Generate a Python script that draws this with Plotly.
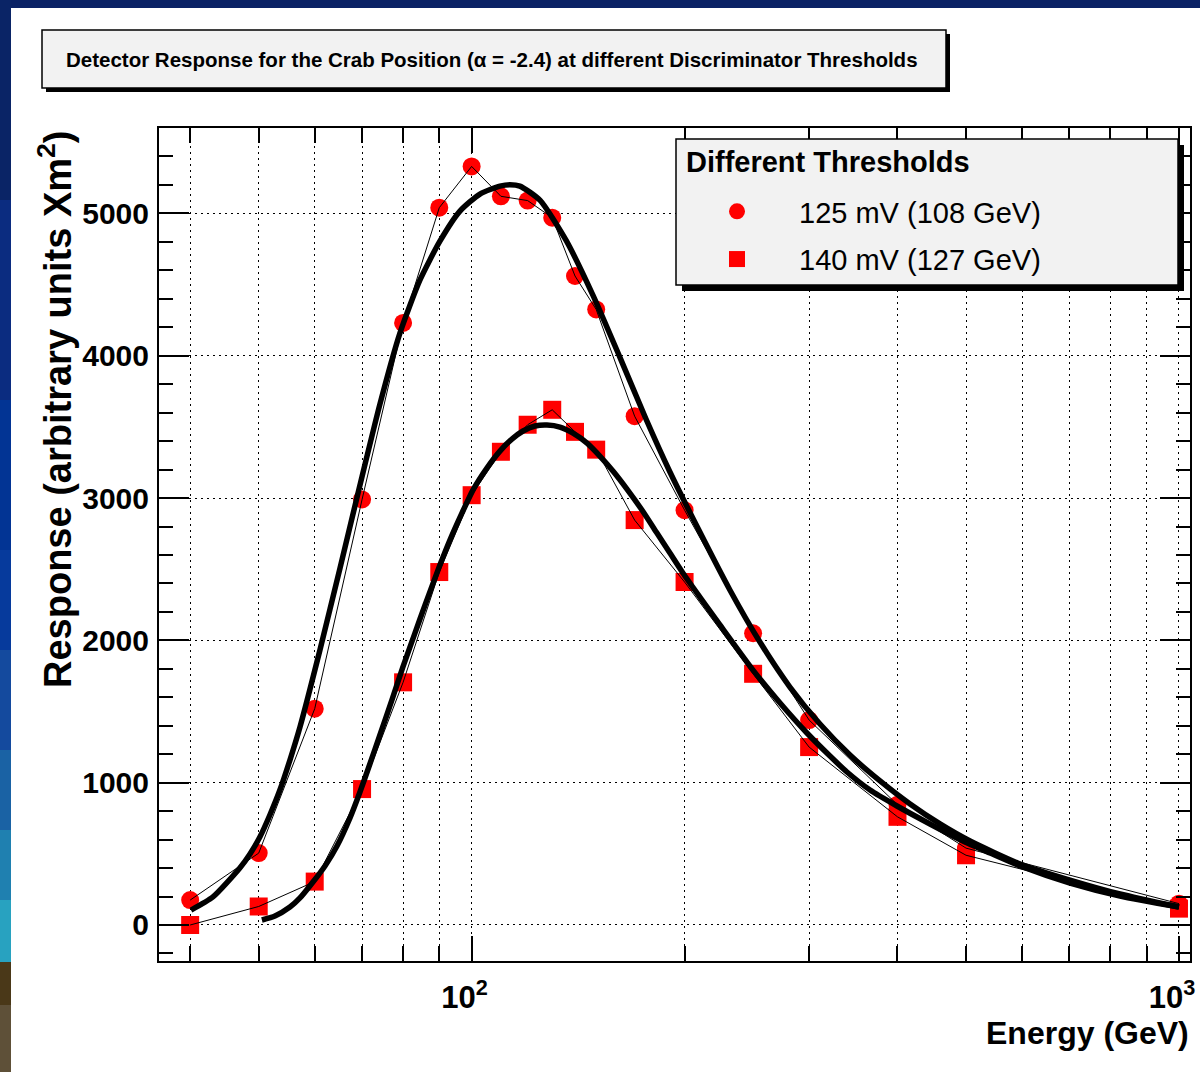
import plotly.graph_objects as go

# ---------------- data ----------------
energy = [40, 50, 60, 70, 80, 90, 100, 110, 120, 130, 140, 150, 170, 200, 250, 300, 400, 500, 1000]
resp_125 = [175, 505, 1520, 2990, 4230, 5040, 5330, 5120, 5090, 4970, 4560, 4325, 3575, 2915, 2050, 1440, 845, 540, 150]
resp_140 = [0, 130, 305, 955, 1705, 2480, 3020, 3325, 3515, 3620, 3465, 3340, 2845, 2410, 1765, 1250, 760, 490, 115]

# fitted curves
fit_e_125 = [40.11, 43.08, 47.02, 48.60, 50.19, 51.85, 53.57, 55.35, 57.19, 61.03, 65.15, 69.52, 74.19,
             79.18, 84.49, 90.19, 96.26, 102.74, 109.65, 113.28, 117.01, 124.9, 135.95, 148.4, 162.0,
             176.4, 190.7, 210.2, 231.8, 255.6, 281.8, 310.8, 342.7, 377.9, 416.7, 459.4, 506.6,
             596.2, 701.4, 825.4, 1000]
fit_125 = [105, 197, 400, 499, 618, 773, 948, 1159, 1391, 1932, 2508, 3091, 3660,
           4159, 4531, 4805, 5016, 5136, 5192, 5202, 5192, 5093, 4812, 4426, 3990,
           3555, 3183, 2761, 2354, 1988, 1672, 1412, 1194, 1012, 850, 710, 590,
           429, 316, 218, 126]

fit_e_140 = [50.52, 52.71, 55.35, 57.19, 59.66, 62.04, 64.51, 67.30, 69.52, 71.80, 74.19, 77.15, 79.96,
             83.15, 85.91, 90.19, 93.18, 96.89, 100.42, 105.1, 109.65, 114.0, 118.2, 122.9, 127.8,
             133.3, 139.1, 145.6, 151.8, 158.4, 165.8, 174.1, 182.8, 190.7, 198.9, 210.2, 224.4,
             249.9, 272.9, 297.9, 321.1, 339.3, 365.8, 399.3, 444.6, 495.1, 540.6, 596.2, 701.4,
             825.4, 1000]
fit_140 = [35, 63, 126, 190, 302, 415, 555, 752, 934, 1131, 1335, 1581, 1813,
           2051, 2248, 2529, 2705, 2894, 3056, 3211, 3330, 3414, 3471, 3506, 3513,
           3499, 3456, 3386, 3295, 3190, 3063, 2916, 2754, 2613, 2473, 2304, 2108,
           1791, 1560, 1349, 1187, 1075, 948, 836, 710, 590, 506, 415, 295,
           204, 126]

labels = ["125 mV (108 GeV)", "140 mV (127 GeV)"]
x_tickvals = [100, 1000]
x_ticktext = ["10<sup>2</sup>", "10<sup>3</sup>"]
x_minor = [40, 50, 60, 70, 80, 90, 200, 300, 400, 500, 600, 700, 800, 900]

# ---------------- layout geometry ----------------
W, H = 1200, 1072
L, R, T, B = 159, 10, 128, 111
PW, PH = W - L - R, H - T - B

def px(x):
    return (x - L) / PW

def py(y):
    return (H - B - y) / PH

FONT = "Liberation Sans, Arial, Helvetica, sans-serif"

fig = go.Figure()

# markers (legend entries)
fig.add_trace(go.Scatter(x=energy, y=resp_125, mode="markers", name=labels[0],
                         legendgroup="a",
                         marker=dict(symbol="circle", size=18, color="#ff0000", line=dict(width=0))))
fig.add_trace(go.Scatter(x=energy, y=resp_140, mode="markers", name=labels[1],
                         legendgroup="b",
                         marker=dict(symbol="square", size=18, color="#ff0000", line=dict(width=0))))
# thin connecting lines
for ys in (resp_125, resp_140):
    fig.add_trace(go.Scatter(x=energy, y=ys, mode="lines", showlegend=False,
                             line=dict(color="black", width=1), hoverinfo="skip"))
# thick fit curves
for xs, ys in ((fit_e_125, fit_125), (fit_e_140, fit_140)):
    fig.add_trace(go.Scatter(x=xs, y=ys, mode="lines", showlegend=False,
                             line=dict(color="black", width=5.5, shape="spline", smoothing=0.6),
                             hoverinfo="skip"))

grid_dash = "2px,4px"
fig.update_xaxes(
    type="log", range=[1.558, 3.0156], automargin=False,
    tickmode="array", tickvals=x_tickvals, ticktext=x_ticktext,
    ticks="inside", ticklen=25, tickwidth=1.5, tickcolor="black",
    showline=True, linewidth=2, linecolor="black", mirror="ticks",
    showgrid=True, gridcolor="black", gridwidth=1, griddash=grid_dash,
    zeroline=False, ticklabeloverflow="allow", ticklabelshift=-7,
    tickfont=dict(family=FONT, size=31, color="black", weight="bold"),
    ticklabelstandoff=8,
    minor=dict(tickmode="array", tickvals=x_minor, ticks="inside", ticklen=15, tickwidth=1.5,
               tickcolor="black", showgrid=True, gridcolor="black", gridwidth=1, griddash=grid_dash),
)
fig.update_yaxes(
    range=[-253, 5600], dtick=1000, tick0=0, automargin=False,
    ticks="inside", ticklen=30, tickwidth=1.5, tickcolor="black",
    showline=True, linewidth=2, linecolor="black", mirror="ticks",
    showgrid=True, gridcolor="black", gridwidth=1, griddash=grid_dash,
    zeroline=False,
    tickfont=dict(family=FONT, size=30, color="black", weight="bold"),
    ticklabelstandoff=2,
    minor=dict(dtick=200, tick0=0, ticks="inside", ticklen=14, tickwidth=1.5, tickcolor="black",
               showgrid=False),
)

shapes = []
# slide frame: top band and left gradient band
shapes.append(dict(type="rect", xref="paper", yref="paper", x0=px(0), x1=px(W), y0=py(8), y1=py(0),
                   fillcolor="#0a2265", line=dict(width=0), layer="above"))
band = [(0, 200, "#0a2466"), (200, 400, "#0b2c80"), (400, 550, "#023494"), (550, 650, "#063a9c"),
        (650, 750, "#144a9e"), (750, 830, "#1a62a4"), (830, 900, "#1f80b0"), (900, 962, "#28a2c0"),
        (962, 1005, "#4a3818"), (1005, 1072, "#5e5038")]
for y0, y1, c in band:
    shapes.append(dict(type="rect", xref="paper", yref="paper", x0=px(0), x1=px(11), y0=py(y1), y1=py(y0),
                       fillcolor=c, line=dict(width=0), layer="above"))
# title box with shadow
shapes.append(dict(type="rect", xref="paper", yref="paper", x0=px(46), x1=px(950), y0=py(92), y1=py(34),
                   fillcolor="black", line=dict(width=0), layer="above"))
shapes.append(dict(type="rect", xref="paper", yref="paper", x0=px(42), x1=px(946), y0=py(88), y1=py(30),
                   fillcolor="#f2f2f2", line=dict(color="black", width=1.5), layer="above"))
# legend box with shadow
shapes.append(dict(type="rect", xref="paper", yref="paper", x0=px(682), x1=px(1184), y0=py(291), y1=py(145),
                   fillcolor="black", line=dict(width=0), layer="above"))
shapes.append(dict(type="rect", xref="paper", yref="paper", x0=px(676), x1=px(1178), y0=py(285), y1=py(139),
                   fillcolor="#f2f2f2", line=dict(color="black", width=1.5), layer="above"))

annotations = [
    dict(text="Detector Response for the Crab Position (\u03b1 = -2.4) at different Discriminator Thresholds",
         xref="paper", yref="paper", x=px(492), y=py(59), xanchor="center", yanchor="middle",
         showarrow=False, font=dict(family=FONT, size=20.5, color="black", weight="bold")),
    dict(text="Energy (GeV)", xref="paper", yref="paper", x=px(1191), y=py(1033),
         xanchor="right", yanchor="middle", showarrow=False,
         font=dict(family=FONT, size=32, color="black", weight="bold")),
    dict(text="Response (arbitrary units Xm<sup>2</sup>)", xref="paper", yref="paper",
         x=px(55), y=py(128), xanchor="center", yanchor="top", textangle=-90, showarrow=False,
         font=dict(family=FONT, size=38, color="black", weight="bold")),
    dict(text="Different Thresholds", xref="paper", yref="paper",
         x=px(684), y=py(162), xanchor="left", yanchor="middle", showarrow=False,
         font=dict(family=FONT, size=29, color="black", weight="bold")),
]

fig.update_layout(
    width=W, height=H,
    margin=dict(l=L, r=R, t=T, b=B, pad=0),
    paper_bgcolor="white", plot_bgcolor="white",
    shapes=shapes, annotations=annotations,
    showlegend=True,
    legend=dict(x=px(675), y=py(186), xanchor="left", yanchor="top",
                bgcolor="rgba(0,0,0,0)", borderwidth=0,
                font=dict(family=FONT, size=29, color="black"),
                itemwidth=114, traceorder="grouped", tracegroupgap=7),
)

fig.write_html("out.html")
